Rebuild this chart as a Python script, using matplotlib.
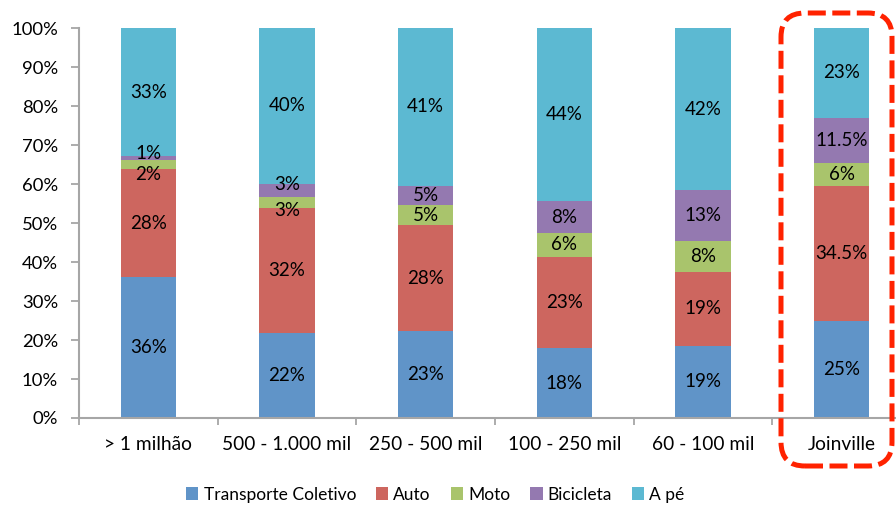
import matplotlib.pyplot as plt
import numpy as np
from matplotlib.patches import FancyBboxPatch

plt.rcParams['font.family'] = ['Lato', 'DejaVu Sans']

## Data (share of trips by mode, %)
categories = ['> 1 milhão', '500 - 1.000 mil', '250 - 500 mil', '100 - 250 mil', '60 - 100 mil', 'Joinville']
modes = ['Transporte Coletivo', 'Auto', 'Moto', 'Bicicleta', 'A pé']

transporte = [36.1, 21.7, 22.3, 17.9, 18.5, 25.0]
auto = [27.7, 32.2, 27.2, 23.5, 19.0, 34.5]
moto = [2.3, 2.8, 5.1, 6.0, 7.9, 6.0]
bicicleta = [1.1, 3.4, 5.0, 8.2, 13.0, 11.5]
a_pe = [32.8, 39.9, 40.4, 44.4, 41.6, 23.0]

lbl_transporte = ['36%', '22%', '23%', '18%', '19%', '25%']
lbl_auto = ['28%', '32%', '28%', '23%', '19%', '34.5%']
lbl_moto = ['2%', '3%', '5%', '6%', '8%', '6%']
lbl_bicicleta = ['1%', '3%', '5%', '8%', '13%', '11.5%']
lbl_a_pe = ['33%', '40%', '41%', '44%', '42%', '23%']

colors = ['#6094C8', '#CD665F', '#A9C46C', '#9479B0', '#5CB9D2']

series = [transporte, auto, moto, bicicleta, a_pe]
labels = [lbl_transporte, lbl_auto, lbl_moto, lbl_bicicleta, lbl_a_pe]

# nudge for crowded small segments (points, vertical)
nudge = {(2, 0): -7, (3, 0): 3, (2, 1): -6, (3, 1): 4}

#%% Plot
fig = plt.figure(figsize=(8.96, 5.11), dpi=100)
ax = fig.add_axes([0.0882, 0.182, 0.9286, 0.763])

x = np.arange(len(categories))
bottom = np.zeros(len(categories))
for s, (vals, lbls) in enumerate(zip(series, labels)):
    vals = np.array(vals)
    ax.bar(x, vals, 0.4, bottom=bottom, color=colors[s], label=modes[s])
    for i in range(len(categories)):
        ax.annotate(lbls[i], (x[i], bottom[i] + vals[i] / 2),
                    xytext=(0, nudge.get((s, i), 0)), textcoords='offset points',
                    ha='center', va='center', fontsize=13.5, color='black')
    bottom += vals

ax.set_xlim(-0.5, 5.5)
ax.set_ylim(0, 100)
ax.set_yticks(range(0, 101, 10))
ax.set_yticklabels([f'{v}%' for v in range(0, 101, 10)], fontsize=13.3)
ax.set_xticks(x)
ax.set_xticklabels(categories, fontsize=13.8)
ax.set_xticks(np.arange(-0.5, 6, 1), minor=True)
ax.tick_params(axis='x', which='major', length=0, pad=13)
ax.tick_params(axis='x', which='minor', length=5, color='#A6A6A6', width=1.3)
ax.tick_params(axis='y', length=6, color='#A6A6A6', width=1.3, pad=9)

for side in ['top', 'right']:
    ax.spines[side].set_visible(False)
for side in ['left', 'bottom']:
    ax.spines[side].set_color('#A6A6A6')
    ax.spines[side].set_linewidth(1.5)

fig.legend(loc='center', bbox_to_anchor=(0.486, 0.032), ncol=5, frameon=False,
           fontsize=12.5, handlelength=0.7, handleheight=0.7, handletextpad=0.3,
           columnspacing=1.15, borderaxespad=0)

# highlight box around Joinville
box = FancyBboxPatch((7.81, 0.45), 1.11, 4.53, boxstyle='round,pad=0,rounding_size=0.24',
                     transform=fig.dpi_scale_trans, fill=False, edgecolor='#FF2200',
                     linewidth=3.6, linestyle=(0, (3.6, 1.3)), clip_on=False)
fig.patches.append(box)

plt.savefig('out.png', dpi=100)
